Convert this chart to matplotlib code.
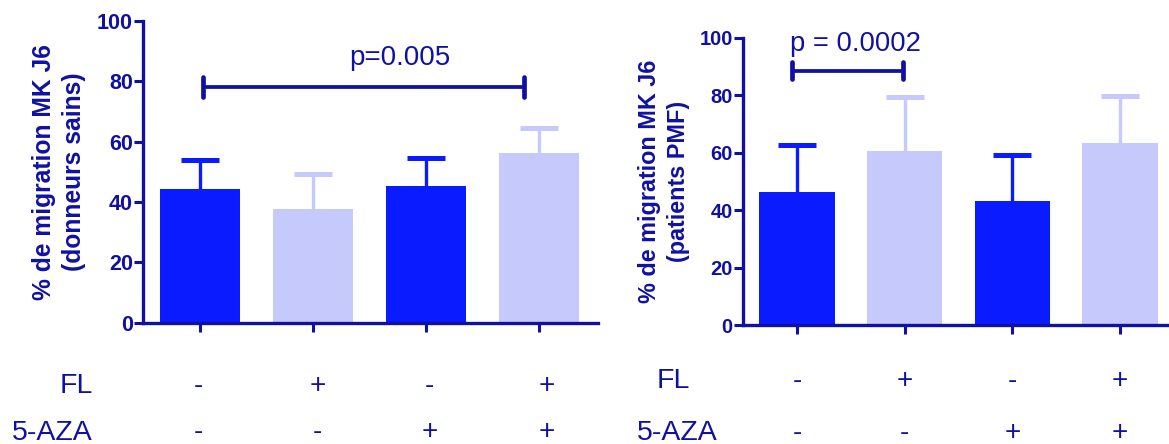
import numpy as np
import matplotlib
matplotlib.use("Agg")
import matplotlib.pyplot as plt

plt.rcParams['font.family'] = ['Liberation Sans', 'DejaVu Sans']

# données
fl = ['-', '+', '-', '+']
aza = ['-', '-', '+', '+']
sains_mean = [44.3, 37.7, 45.3, 56.2]
sains_err = [9.6, 11.5, 9.4, 8.2]
pmf_mean = [46.3, 60.5, 43.3, 63.4]
pmf_err = [16.4, 18.9, 16.0, 16.4]

navy = '#1010A2'
dark = '#0A1CFF'
light = '#C6C9FB'
bar_colors = [dark, light, dark, light]

fig = plt.figure(figsize=(11.69, 4.44), dpi=100)
ax1 = fig.add_axes([0.1226, 0.2732, 0.3886, 0.6795])
ax2 = fig.add_axes([0.6358, 0.268, 0.3642, 0.6475])


def draw_panel(ax, mean, err, width, xlim, ylabel, ysize, ticksize):
  x = np.arange(len(mean))
  ax.bar(x, mean, width=width, color=bar_colors, zorder=2)
  for i in range(len(mean)):
    eb = ax.errorbar(x[i], mean[i], yerr=[[0], [err[i]]], fmt='none', ecolor=bar_colors[i],
                     elinewidth=2.4, capsize=14, capthick=3.6, zorder=1)
    # seulement la barre du haut
    for cap in eb[1]:
      if abs(cap.get_ydata()[0] - mean[i]) < 1e-9:
        cap.remove()
  ax.set_xlim(xlim)
  ax.set_ylim(0, 100)
  ax.set_yticks([0, 20, 40, 60, 80, 100])
  ax.set_xticks(x)
  ax.set_xticklabels([])
  for s in ['top', 'right']:
    ax.spines[s].set_visible(False)
  for s in ['left', 'bottom']:
    ax.spines[s].set_linewidth(2.4)
    ax.spines[s].set_color(navy)
  ax.tick_params(axis='y', direction='out', length=6.5, width=2.2, color=navy,
                 labelcolor=navy, labelsize=ticksize, pad=1)
  ax.tick_params(axis='x', direction='out', length=6.5, width=2.2, color=navy)
  for lab in ax.get_yticklabels():
    lab.set_fontweight('bold')
  ax.set_ylabel(ylabel, fontsize=ysize, fontweight='bold', color=navy,
                linespacing=1.3, va='center')
  ax.yaxis.set_label_coords(-0.186, 0.5)


def sig_bar(ax, x0, x1, y, h, text, tx, ty, size):
  ax.plot([x0, x1], [y, y], color=navy, lw=2.7, solid_capstyle='butt', clip_on=False)
  for xx in [x0, x1]:
    ax.plot([xx, xx], [y - h, y + h], color=navy, lw=3.4, solid_capstyle='round', clip_on=False)
  ax.text(tx, ty, text, ha='center', va='baseline', fontsize=size, color=navy)


draw_panel(ax1, sains_mean, sains_err, 0.71, (-0.505, 3.52),
           '% de migration MK J6\n(donneurs sains)', 17.7, 15.5)
draw_panel(ax2, pmf_mean, pmf_err, 0.70, (-0.5, 3.455),
           '% de migration MK J6\n(patients PMF)', 16.8, 14.5)

sig_bar(ax1, 0.02, 2.87, 78.2, 3.3, 'p=0.005', 1.77, 85.4, 20)
sig_bar(ax2, -0.05, 0.98, 88.5, 3.0, 'p = 0.0002', 0.54, 95.4, 19.7)

# lignes des conditions sous les barres
left_shift = [-0.02, 1.04, 2.03, 3.07]
for i in range(4):
  t1 = ax1.get_xaxis_transform()
  ax1.text(left_shift[i], -0.232, fl[i], ha='center', va='baseline', fontsize=20,
           color=navy, transform=t1)
  ax1.text(left_shift[i], -0.3855, aza[i], ha='center', va='baseline', fontsize=20,
           color=navy, transform=t1)
  t2 = ax2.get_xaxis_transform()
  ax2.text(i, -0.220, fl[i], ha='center', va='baseline', fontsize=20,
           color=navy, transform=t2)
  ax2.text(i, -0.40, aza[i], ha='center', va='baseline', fontsize=20,
           color=navy, transform=t2)

fig.text(0.0507, 0.1155, 'FL', ha='left', va='baseline', fontsize=20.5, color=navy)
fig.text(0.010, 0.009, '5-AZA', ha='left', va='baseline', fontsize=20.5, color=navy)
fig.text(0.5618, 0.1255, 'FL', ha='left', va='baseline', fontsize=20.5, color=navy)
fig.text(0.5452, 0.009, '5-AZA', ha='left', va='baseline', fontsize=20.5, color=navy)

fig.savefig('out.png', dpi=100)
